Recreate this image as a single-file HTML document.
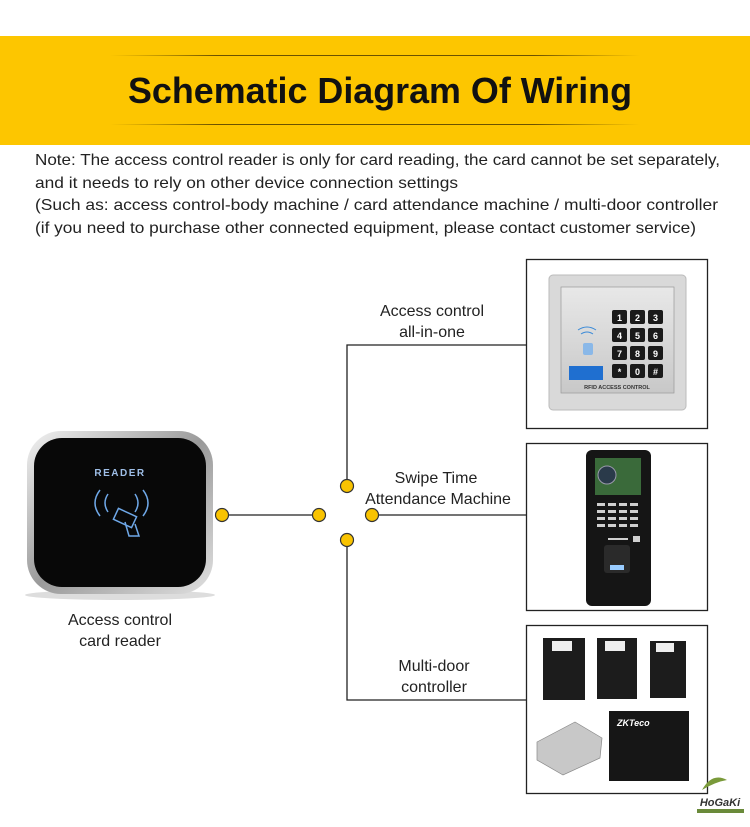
<!DOCTYPE html>
<html><head><meta charset="utf-8"><style>
html,body{margin:0;padding:0;background:#fff;}
svg{display:block;}
text{font-family:"Liberation Sans",sans-serif;}
</style></head><body>
<svg width="750" height="827" viewBox="0 0 750 827" xmlns="http://www.w3.org/2000/svg">
<defs>
<linearGradient id="ln" x1="0" x2="1"><stop offset="0" stop-color="#8a6a00" stop-opacity="0"/><stop offset=".2" stop-color="#6b5200"/><stop offset=".8" stop-color="#6b5200"/><stop offset="1" stop-color="#8a6a00" stop-opacity="0"/></linearGradient>
<linearGradient id="silver" x1="0" y1="0" x2="1" y2="1"><stop offset="0" stop-color="#f2f2f2"/><stop offset=".5" stop-color="#9a9a9a"/><stop offset="1" stop-color="#e0e0e0"/></linearGradient>
<linearGradient id="kp" x1="0" y1="0" x2="0" y2="1"><stop offset="0" stop-color="#e8e8e8"/><stop offset="1" stop-color="#c8c8c8"/></linearGradient>
</defs>
<rect x="0" y="36" width="750" height="109" fill="#fdc600"/>
<rect x="110" y="55" width="530" height="1" fill="url(#ln)"/>
<rect x="110" y="124" width="530" height="1" fill="url(#ln)"/>
<text x="128" y="103" font-size="36" font-weight="bold" fill="#111" textLength="504" lengthAdjust="spacingAndGlyphs">Schematic Diagram Of Wiring</text>

<g font-size="16" fill="#222">
<text x="35" y="165" textLength="685" lengthAdjust="spacingAndGlyphs">Note: The access control reader is only for card reading, the card cannot be set separately,</text>
<text x="35" y="188" textLength="423" lengthAdjust="spacingAndGlyphs">and it needs to rely on other device connection settings</text>
<text x="35" y="210" textLength="683" lengthAdjust="spacingAndGlyphs">(Such as: access control-body machine / card attendance machine / multi-door controller</text>
<text x="35" y="233" textLength="661" lengthAdjust="spacingAndGlyphs">(if you need to purchase other connected equipment, please contact customer service)</text>
</g>

<!-- reader -->
<ellipse cx="120" cy="595" rx="95" ry="5" fill="#ddd"/>
<rect x="27" y="431" width="186" height="163" rx="34" fill="url(#silver)"/>
<rect x="34" y="438" width="172" height="149" rx="28" fill="#080808"/>
<text x="120" y="476" font-size="10" font-weight="bold" fill="#9fbfe8" text-anchor="middle" letter-spacing="1.5">READER</text>
<g fill="none" stroke="#6fa8e8" stroke-width="1.5">
<path d="M100 490 q-10 13 0 26"/><path d="M108 494 q-6 9 0 18"/><path d="M143 490 q10 13 0 26"/><path d="M135 494 q6 9 0 18"/>
<rect x="115" y="512" width="20" height="12" transform="rotate(25 125 518)"/>
<path d="M125 522 l4 14 l10 0 l-4 -12"/>
</g>
<text x="120" y="625" font-size="16" fill="#222" text-anchor="middle">Access control</text>
<text x="120" y="646" font-size="16" fill="#222" text-anchor="middle">card reader</text>

<!-- connectors -->
<g stroke="#222" stroke-width="1.3" fill="none">
<line x1="222" y1="515" x2="319" y2="515"/>
<polyline points="347,486 347,345 526,345"/>
<polyline points="347,540 347,700 526,700"/>
<line x1="372" y1="515" x2="526" y2="515"/>
</g>
<g fill="#f9c300" stroke="#333" stroke-width="1.2">
<circle cx="222" cy="515" r="6.5"/><circle cx="319" cy="515" r="6.5"/><circle cx="372" cy="515" r="6.5"/>
<circle cx="347" cy="486" r="6.5"/><circle cx="347" cy="540" r="6.5"/>
</g>
<g font-size="16" fill="#222" text-anchor="middle">
<text x="432" y="316">Access control</text><text x="432" y="337">all-in-one</text>
<text x="436" y="483">Swipe Time</text><text x="438" y="504">Attendance Machine</text>
<text x="434" y="671">Multi-door</text><text x="434" y="692">controller</text>
</g>

<!-- boxes -->
<g fill="#fff" stroke="#222" stroke-width="1.3">
<rect x="526.5" y="259.5" width="181" height="169"/>
<rect x="526.5" y="443.5" width="181" height="167"/>
<rect x="526.5" y="625.5" width="181" height="168"/>
</g>

<!-- keypad device -->
<rect x="549" y="275" width="137" height="135" rx="4" fill="#d9d9d9" stroke="#bbb"/>
<rect x="561" y="287" width="113" height="106" fill="url(#kp)" stroke="#999" stroke-width=".7"/>
<g fill="#1a1a1a">
<rect x="612" y="310" width="15" height="14" rx="2"/><rect x="630" y="310" width="15" height="14" rx="2"/><rect x="648" y="310" width="15" height="14" rx="2"/>
<rect x="612" y="328" width="15" height="14" rx="2"/><rect x="630" y="328" width="15" height="14" rx="2"/><rect x="648" y="328" width="15" height="14" rx="2"/>
<rect x="612" y="346" width="15" height="14" rx="2"/><rect x="630" y="346" width="15" height="14" rx="2"/><rect x="648" y="346" width="15" height="14" rx="2"/>
<rect x="612" y="364" width="15" height="14" rx="2"/><rect x="630" y="364" width="15" height="14" rx="2"/><rect x="648" y="364" width="15" height="14" rx="2"/>
</g>
<g font-size="9" font-weight="bold" fill="#fff" text-anchor="middle">
<text x="619.5" y="321">1</text><text x="637.5" y="321">2</text><text x="655.5" y="321">3</text>
<text x="619.5" y="339">4</text><text x="637.5" y="339">5</text><text x="655.5" y="339">6</text>
<text x="619.5" y="357">7</text><text x="637.5" y="357">8</text><text x="655.5" y="357">9</text>
<text x="619.5" y="375">*</text><text x="637.5" y="375">0</text><text x="655.5" y="375">#</text>
</g>
<rect x="569" y="366" width="34" height="14" fill="#1f6fd0"/>
<text x="617" y="389" font-size="5.5" font-weight="bold" fill="#333" text-anchor="middle">RFID ACCESS CONTROL</text>
<g fill="none" stroke="#3a8ad8" stroke-width="1"><path d="M578 330 q9 -6 18 0"/><path d="M581 334 q6 -4 12 0"/></g>
<rect x="583" y="343" width="10" height="12" rx="2" fill="#8ab8e8"/>

<!-- attendance machine -->
<rect x="586" y="450" width="65" height="156" rx="6" fill="#151515"/>
<rect x="595" y="458" width="46" height="37" fill="#3a6a3a"/>
<circle cx="607" cy="475" r="9" fill="#2a3a4a" stroke="#99a" stroke-width="1"/>
<g fill="#cfcfcf">
<rect x="597" y="503" width="8" height="3"/><rect x="608" y="503" width="8" height="3"/><rect x="619" y="503" width="8" height="3"/><rect x="630" y="503" width="8" height="3"/>
<rect x="597" y="510" width="8" height="3"/><rect x="608" y="510" width="8" height="3"/><rect x="619" y="510" width="8" height="3"/><rect x="630" y="510" width="8" height="3"/>
<rect x="597" y="517" width="8" height="3"/><rect x="608" y="517" width="8" height="3"/><rect x="619" y="517" width="8" height="3"/><rect x="630" y="517" width="8" height="3"/>
<rect x="597" y="524" width="8" height="3"/><rect x="608" y="524" width="8" height="3"/><rect x="619" y="524" width="8" height="3"/><rect x="630" y="524" width="8" height="3"/>
<rect x="608" y="538" width="20" height="2"/><rect x="633" y="536" width="7" height="6"/>
</g>
<rect x="604" y="545" width="26" height="28" rx="3" fill="#2a2a2a"/>
<rect x="610" y="565" width="14" height="5" fill="#9cf"/>

<!-- multi-door controller -->
<g fill="#1c1c1c">
<rect x="543" y="638" width="42" height="62"/><rect x="597" y="638" width="40" height="61"/><rect x="650" y="641" width="36" height="57"/>
</g>
<g fill="#eee"><rect x="552" y="641" width="20" height="10"/><rect x="605" y="641" width="20" height="10"/><rect x="656" y="643" width="18" height="9"/></g>
<polygon points="537,742 575,722 602,738 600,758 563,775 537,760" fill="#c8c8c8" stroke="#888" stroke-width=".7"/>
<rect x="609" y="711" width="80" height="70" fill="#161616"/>
<text x="617" y="726" font-size="9" font-weight="bold" font-style="italic" fill="#fff">ZKTeco</text>

<!-- logo -->
<path d="M702 790 q10 -18 25 -10 q-12 2 -25 10z" fill="#7a9a3a"/>
<text x="720" y="806" font-size="11" font-weight="bold" font-style="italic" fill="#333" text-anchor="middle">HoGaKi</text>
<rect x="697" y="809" width="47" height="4" fill="#6a8a3a"/>
</svg>
</body></html>
